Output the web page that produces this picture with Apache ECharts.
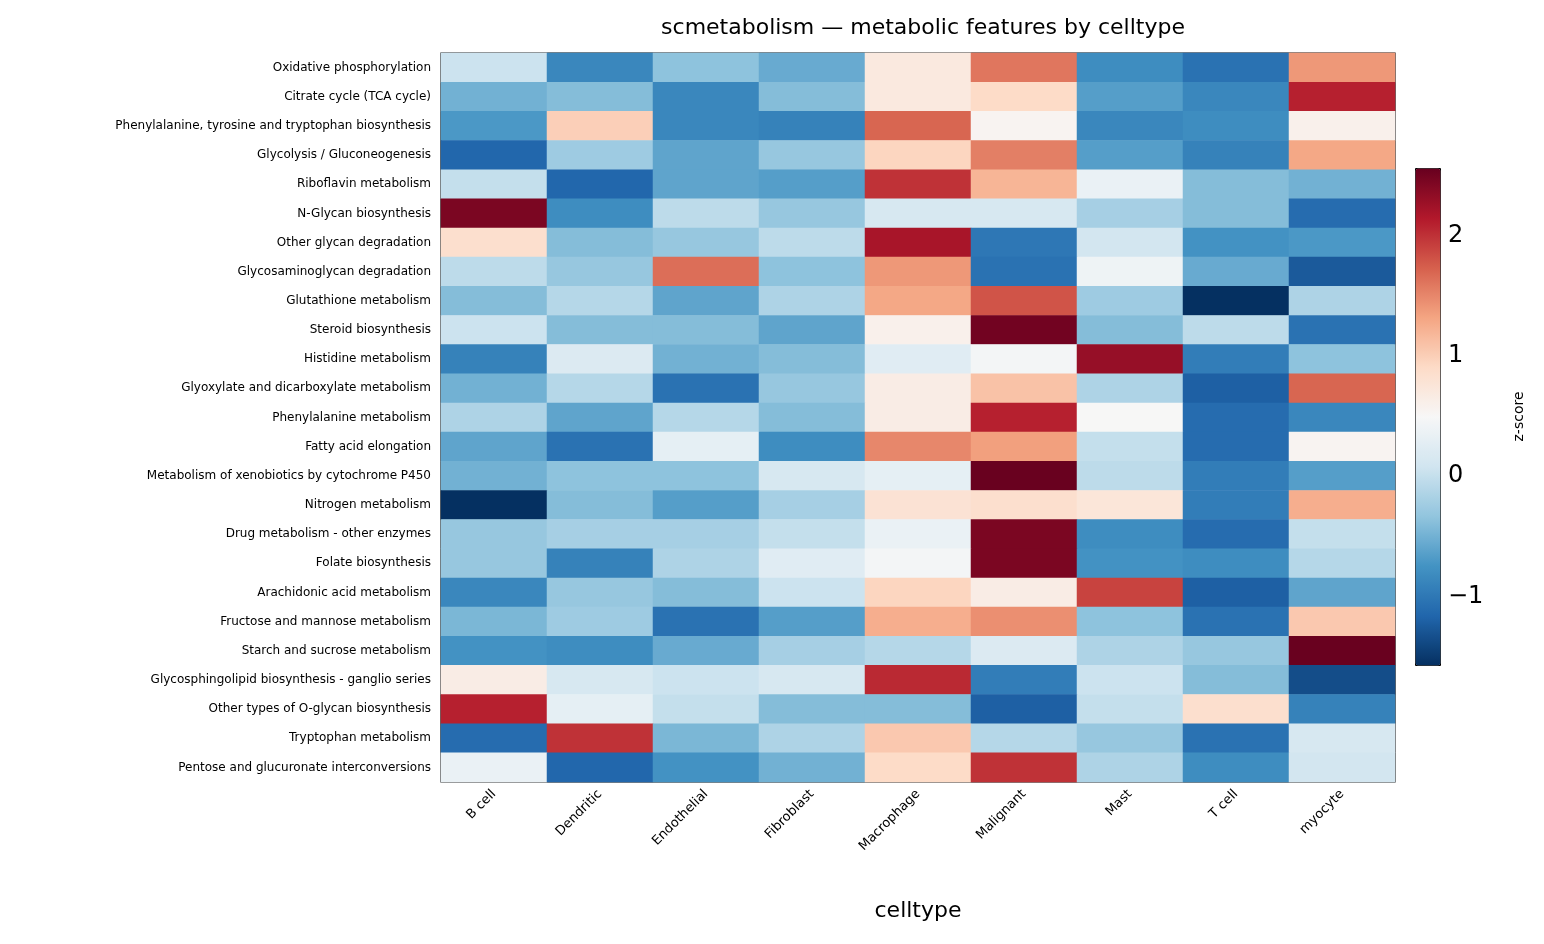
<!DOCTYPE html>
<html><head><meta charset="utf-8">
<script src="https://cdn.jsdelivr.net/npm/echarts@6/dist/echarts.min.js"></script>
<style>html,body{margin:0;background:#fff}#c{width:1544px;height:944px}</style>
</head><body><div id="c"></div>
<script>
const celltypes = ["B cell","Dendritic","Endothelial","Fibroblast","Macrophage","Malignant","Mast","T cell","myocyte"];
const pathways = ["Oxidative phosphorylation","Citrate cycle (TCA cycle)","Phenylalanine, tyrosine and tryptophan biosynthesis","Glycolysis / Gluconeogenesis","Riboflavin metabolism","N-Glycan biosynthesis","Other glycan degradation","Glycosaminoglycan degradation","Glutathione metabolism","Steroid biosynthesis","Histidine metabolism","Glyoxylate and dicarboxylate metabolism","Phenylalanine metabolism","Fatty acid elongation","Metabolism of xenobiotics by cytochrome P450","Nitrogen metabolism","Drug metabolism - other enzymes","Folate biosynthesis","Arachidonic acid metabolism","Fructose and mannose metabolism","Starch and sucrose metabolism","Glycosphingolipid biosynthesis - ganglio series","Other types of O-glycan biosynthesis","Tryptophan metabolism","Pentose and glucuronate interconversions"];
const zscores = [
[0.05,-0.85,-0.35,-0.55,0.7,1.6,-0.8,-1.05,1.4],
[-0.5,-0.4,-0.85,-0.4,0.7,0.9,-0.65,-0.85,2.1],
[-0.7,1.0,-0.85,-0.9,1.7,0.55,-0.85,-0.8,0.6],
[-1.15,-0.25,-0.6,-0.3,0.95,1.55,-0.65,-0.9,1.3],
[0.0,-1.15,-0.6,-0.65,2.0,1.2,0.35,-0.4,-0.5],
[2.45,-0.8,-0.05,-0.3,0.15,0.15,-0.2,-0.4,-1.1],
[0.85,-0.4,-0.3,-0.05,2.2,-1.0,0.1,-0.75,-0.7],
[-0.05,-0.3,1.65,-0.35,1.4,-1.05,0.4,-0.55,-1.25],
[-0.4,-0.1,-0.6,-0.15,1.3,1.8,-0.25,-1.57,-0.15],
[0.05,-0.4,-0.4,-0.6,0.6,2.5,-0.4,-0.05,-1.05],
[-0.9,0.2,-0.5,-0.4,0.25,0.45,2.3,-0.95,-0.35],
[-0.5,-0.1,-1.05,-0.3,0.65,1.1,-0.15,-1.2,1.7],
[-0.15,-0.6,-0.1,-0.4,0.65,2.1,0.5,-1.1,-0.85],
[-0.6,-1.05,0.3,-0.8,1.5,1.35,0.0,-1.1,0.55],
[-0.5,-0.35,-0.35,0.15,0.3,2.55,-0.05,-0.95,-0.65],
[-1.57,-0.4,-0.65,-0.2,0.8,0.85,0.75,-0.95,1.25],
[-0.3,-0.2,-0.2,0.0,0.35,2.45,-0.8,-1.1,0.0],
[-0.3,-0.9,-0.15,0.25,0.45,2.45,-0.75,-0.8,-0.1],
[-0.85,-0.3,-0.4,0.05,0.95,0.65,1.9,-1.2,-0.6],
[-0.45,-0.25,-1.05,-0.65,1.25,1.45,-0.35,-1.05,1.05],
[-0.75,-0.8,-0.55,-0.2,-0.1,0.2,-0.15,-0.3,2.55],
[0.65,0.15,0.05,0.15,2.05,-0.95,0.05,-0.4,-1.35],
[2.1,0.3,0.0,-0.4,-0.4,-1.2,0.0,0.85,-0.9],
[-1.1,2.0,-0.45,-0.15,1.05,-0.1,-0.3,-1.05,0.15],
[0.35,-1.15,-0.75,-0.5,0.9,2.0,-0.15,-0.8,0.1]
];
const vmin = -1.57, vmax = 2.56;
const cbarTicks = [-1,0,1,2];
const data = [];
zscores.forEach((row,i)=>row.forEach((v,j)=>data.push([j,i,v])));
const rdbu = ['#053061','#2166ac','#4393c3','#92c5de','#d1e5f0','#f7f7f7','#fddbc7','#f4a582','#d6604d','#b2182b','#67001f'];
const chart = echarts.init(document.getElementById('c'));
chart.setOption({
  animation:false,
  textStyle:{fontFamily:'DejaVu Sans'},
  title:{text:'scmetabolism — metabolic features by celltype',left:918,top:12,textAlign:'center',textStyle:{fontSize:22,fontWeight:'normal',color:'#000'}},
  grid:[{left:441,top:53,width:954,height:729,show:true,borderColor:'#000',borderWidth:1.2,backgroundColor:'transparent'},
        {left:1415,top:168,width:25,height:497,show:false}],
  xAxis:[{type:'category',data:celltypes,gridIndex:0,name:'celltype',nameLocation:'middle',nameGap:118,nameTextStyle:{fontSize:22,color:'#000'},
    axisLine:{show:false},axisTick:{alignWithLabel:true,length:6,lineStyle:{color:'#000'}},
    axisLabel:{rotate:45,fontSize:13,color:'#000',margin:10},splitLine:{show:false}},
    {type:'value',gridIndex:1,show:false}],
  yAxis:[{type:'category',data:pathways,inverse:true,gridIndex:0,axisLine:{show:false},
    axisTick:{alignWithLabel:true,length:6,lineStyle:{color:'#000'}},axisLabel:{fontSize:12,color:'#000',margin:10},splitLine:{show:false}},
    {type:'value',gridIndex:1,min:vmin,max:vmax,position:'right',name:'z-score',nameLocation:'middle',nameGap:72,nameRotate:90,
     nameTextStyle:{fontSize:14,color:'#000'},axisLine:{show:false},splitLine:{show:false},
     axisTick:{show:true,customValues:cbarTicks,length:6,lineStyle:{color:'#000'}},
     axisLabel:{customValues:cbarTicks,fontSize:24,color:'#000',margin:8,formatter:v=>v<0?'\u2212'+Math.abs(v):String(v)}}],
  visualMap:{type:'continuous',min:vmin,max:vmax,calculable:false,show:true,orient:'vertical',
    left:1415,top:168,itemWidth:25,itemHeight:497,text:null,showLabel:false,inRange:{color:rdbu},
    borderColor:'#000',borderWidth:1,padding:0,seriesIndex:0,handleStyle:{opacity:0},indicatorStyle:{opacity:0}},
  series:[{type:'heatmap',xAxisIndex:0,yAxisIndex:0,data:data,itemStyle:{borderWidth:0},emphasis:{disabled:true}}]
});
</script></body></html>
